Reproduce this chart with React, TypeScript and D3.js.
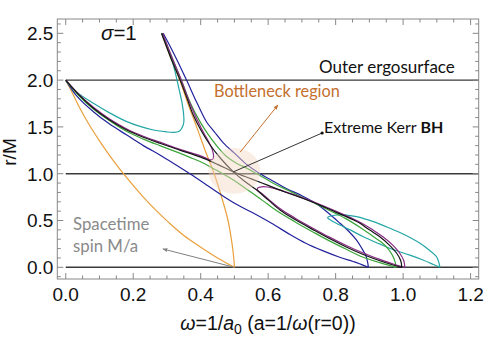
import React from 'react';
import * as d3 from 'd3';

type Pt = [number, number]; // [omega, r/M]

// ---- curves ([omega, r/M]) ----
const orangeOuter: Pt[] = [
  [0, 2], [0.02, 1.86], [0.042, 1.7], [0.07, 1.52], [0.102, 1.34], [0.135, 1.17],
  [0.171, 1.0], [0.23, 0.75], [0.27, 0.6], [0.305, 0.48], [0.35, 0.34], [0.398, 0.22],
  [0.45, 0.1], [0.5, 0],
];
const orangeInner: Pt[] = [
  [0.284, 2.5], [0.31, 2.25], [0.338, 2.0], [0.362, 1.75], [0.388, 1.5], [0.413, 1.25],
  [0.44, 1.0], [0.462, 0.75], [0.481, 0.5], [0.493, 0.25], [0.498, 0.1], [0.5, 0],
];
const tealLeft: Pt[] = [
  [0, 2], [0.03, 1.88], [0.082, 1.752], [0.13, 1.65], [0.181, 1.556], [0.22, 1.505],
  [0.26, 1.467], [0.3, 1.446], [0.319, 1.442], [0.335, 1.45], [0.344, 1.485], [0.35, 1.55],
  [0.349, 1.65], [0.344, 1.77], [0.336, 1.9], [0.319, 2.16], [0.302, 2.34], [0.284, 2.5],
];
const tealLoop: Pt[] = [
  [1.109, 0], [1.106, 0.05], [1.099, 0.113], [1.075, 0.19], [1.05, 0.256], [1.0, 0.355],
  [0.961, 0.417], [0.91, 0.49], [0.862, 0.541], [0.825, 0.56], [0.803, 0.559], [0.785, 0.548],
  [0.776, 0.53], [0.785, 0.505], [0.793, 0.487], [0.84, 0.405], [0.882, 0.327], [0.93, 0.25],
  [0.97, 0.19], [1.02, 0.13], [1.059, 0.078], [1.09, 0.03], [1.109, 0],
];
const blueLower: Pt[] = [
  [0, 2], [0.035, 1.82], [0.082, 1.662], [0.13, 1.53], [0.181, 1.413], [0.23, 1.3],
  [0.279, 1.2], [0.32, 1.11], [0.368, 1.0], [0.42, 0.875], [0.467, 0.76], [0.51, 0.665],
  [0.55, 0.59], [0.61, 0.47], [0.665, 0.35], [0.71, 0.26], [0.763, 0.175], [0.81, 0.11],
  [0.862, 0.05], [0.897, 0],
];
const blueUpper: Pt[] = [
  [0.897, 0], [0.895, 0.05], [0.89, 0.12], [0.878, 0.2], [0.862, 0.29], [0.84, 0.38],
  [0.813, 0.47], [0.78, 0.575], [0.745, 0.675], [0.7, 0.765], [0.655, 0.84], [0.615, 0.92],
  [0.576, 1.0], [0.536, 1.1], [0.5, 1.22], [0.467, 1.33], [0.44, 1.45], [0.418, 1.55],
  [0.39, 1.75], [0.358, 2.0], [0.325, 2.25], [0.289, 2.5],
];
const greenLower: Pt[] = [
  [0, 2], [0.04, 1.83], [0.082, 1.69], [0.13, 1.565], [0.181, 1.45], [0.23, 1.37],
  [0.279, 1.3], [0.33, 1.23], [0.368, 1.175], [0.398, 1.13], [0.428, 1.075], [0.46, 1.01],
  [0.497, 0.933], [0.53, 0.85], [0.566, 0.76], [0.6, 0.67], [0.636, 0.58], [0.68, 0.485],
  [0.734, 0.375], [0.78, 0.285], [0.833, 0.19], [0.88, 0.11], [0.931, 0.05], [0.979, 0],
];
const greenUpper: Pt[] = [
  [0.979, 0], [0.976, 0.06], [0.968, 0.13], [0.955, 0.2], [0.935, 0.27], [0.911, 0.33],
  [0.875, 0.42], [0.83, 0.52], [0.78, 0.61], [0.735, 0.69], [0.694, 0.76], [0.66, 0.82],
  [0.625, 0.88], [0.595, 0.94], [0.566, 1.0], [0.536, 1.06], [0.507, 1.11], [0.475, 1.19],
  [0.447, 1.3], [0.42, 1.43], [0.398, 1.556], [0.37, 1.75], [0.342, 2.0], [0.314, 2.25],
  [0.286, 2.5],
];
const purpleLeft: Pt[] = [
  [0, 2], [0.04, 1.845], [0.082, 1.71], [0.13, 1.585], [0.181, 1.478], [0.23, 1.4],
  [0.279, 1.337], [0.33, 1.27], [0.37, 1.225], [0.4, 1.19], [0.42, 1.16], [0.43, 1.147],
  [0.437, 1.16], [0.438, 1.2], [0.434, 1.26], [0.428, 1.31], [0.41, 1.43], [0.4, 1.5],
  [0.383, 1.627], [0.363, 1.8], [0.343, 2.0], [0.314, 2.25], [0.287, 2.5],
];
const purpleLoop: Pt[] = [
  [1.005, 0], [1.002, 0.07], [0.99, 0.15], [0.97, 0.235], [0.94, 0.327], [0.91, 0.4],
  [0.88, 0.465], [0.85, 0.52], [0.8, 0.6], [0.75, 0.675], [0.7, 0.745], [0.66, 0.795],
  [0.625, 0.835], [0.598, 0.858], [0.58, 0.86], [0.568, 0.845], [0.57, 0.82], [0.582, 0.785],
  [0.6, 0.73], [0.636, 0.625], [0.68, 0.525], [0.734, 0.415], [0.78, 0.325], [0.833, 0.23],
  [0.88, 0.155], [0.931, 0.085], [0.975, 0.03], [1.005, 0],
];
const blackLeft: Pt[] = [
  [0, 2], [0.04, 1.84], [0.082, 1.7], [0.13, 1.575], [0.181, 1.467], [0.23, 1.39],
  [0.279, 1.325], [0.34, 1.25], [0.398, 1.18], [0.45, 1.1], [0.497, 1.02], [0.55, 0.945],
  [0.6, 0.875], [0.65, 0.805], [0.7, 0.74], [0.75, 0.67], [0.8, 0.59], [0.85, 0.51],
  [0.872, 0.47], [0.9, 0.4], [0.931, 0.327], [0.96, 0.235], [0.981, 0.15], [0.993, 0.07],
  [0.996, 0],
];
const blackTop: Pt[] = [
  [0.284, 2.5], [0.31, 2.25], [0.339, 2.0], [0.36, 1.8], [0.378, 1.627], [0.4, 1.47],
  [0.428, 1.307], [0.46, 1.16], [0.497, 1.02], [0.53, 0.92], [0.566, 0.826], [0.6, 0.72],
  [0.636, 0.61], [0.68, 0.51], [0.734, 0.4], [0.78, 0.31], [0.833, 0.215], [0.88, 0.14],
  [0.931, 0.07], [0.97, 0.025], [0.996, 0],
];

// reference levels
const levels = [0, 1, 2];

// ticks
const xMajor = [0, 0.2, 0.4, 0.6, 0.8, 1.0, 1.2];
const xMajorLabels = ['0.0', '0.2', '0.4', '0.6', '0.8', '1.0', '1.2'];
const yMajor = [0, 0.5, 1.0, 1.5, 2.0, 2.5];
const yMajorLabels = ['0.0', '0.5', '1.0', '1.5', '2.0', '2.5'];

// annotation anchors (data coordinates)
const bottleneckCenter: Pt = [0.5, 1.03];
const bottleneckArrow: Pt[] = [[0.517, 1.23], [0.629, 1.734]];
const kerrPointer: Pt[] = [[0.76, 1.435], [0.497, 1.02]];
const spinArrow: Pt[] = [[0.5, 0], [0.288, 0.196]];

const W = 490;
const H = 347;
const L = 57.3, R = 478.7, T = 19, B = 279;

const ORANGE = '#e9a03c';
const BLUE = '#22229c';
const TEAL = '#24a6a6';
const GREEN = '#3aa53a';
const PURPLE = '#8a2a86';
const BLACK = '#141414';

const series = [
  { pts: orangeOuter, color: ORANGE },
  { pts: orangeInner, color: ORANGE },
  { pts: blueLower, color: BLUE },
  { pts: blueUpper, color: BLUE },
  { pts: tealLeft, color: TEAL },
  { pts: tealLoop, color: TEAL },
  { pts: greenLower, color: GREEN },
  { pts: greenUpper, color: GREEN },
  { pts: purpleLeft, color: PURPLE },
  { pts: purpleLoop, color: PURPLE },
  { pts: blackLeft, color: BLACK },
  { pts: blackTop, color: BLACK },
];

const App = () => {
  const x = d3.scaleLinear().domain([-0.025, 1.224]).range([L, R]);
  const y = d3.scaleLinear().domain([-0.125, 2.653]).range([B, T]);

  const line = d3.line<Pt>()
    .x(d => x(d[0]))
    .y(d => y(d[1]))
    .curve(d3.curveCatmullRom.alpha(0.5));

  const xMinor = d3.range(0, 1.2201, 0.05).filter(v => !xMajor.some(m => Math.abs(m - v) < 1e-6));
  const yMinor = d3.range(-0.1, 2.6501, 0.1).filter(v => !yMajor.some(m => Math.abs(m - v) < 1e-6));

  const tickColor = '#888';
  const labelFont = '"Liberation Sans", Arial, sans-serif';
  const noteFont = 'Lato, "Open Sans", sans-serif';

  return (
    <svg width={W} height={H} style={{ position: 'absolute', left: 0, top: 0, background: '#fff' }}>
      <defs>
        <marker id="arrOrange" viewBox="0 0 10 10" refX="9" refY="5" markerWidth="5" markerHeight="5" orient="auto">
          <path d="M0,1 L10,5 L0,9 z" fill="#c4702e" />
        </marker>
        <marker id="arrGray" viewBox="0 0 10 10" refX="9" refY="5" markerWidth="5" markerHeight="5" orient="auto">
          <path d="M0,1 L10,5 L0,9 z" fill="#808080" />
        </marker>
      </defs>

      {/* reference lines */}
      {levels.map(v => (
        <line key={v} x1={x(0)} x2={R} y1={y(v)} y2={y(v)} stroke="#3a3a3a" strokeWidth={1.4} />
      ))}

      {/* curves */}
      {series.map((s, i) => (
        <path key={i} d={line(s.pts) || ''} fill="none" stroke={s.color} strokeWidth={1.2} />
      ))}

      {/* bottleneck blob */}
      <ellipse
        cx={x(bottleneckCenter[0])} cy={y(bottleneckCenter[1])}
        rx={x(0.077) - x(0)} ry={y(0) - y(0.245)}
        fill="#f4d8c4" opacity={0.45}
      />

      {/* frame */}
      <rect x={L} y={T} width={R - L} height={B - T} fill="none" stroke={tickColor} strokeWidth={1} />
      {xMajor.map(v => (
        <g key={'xM' + v}>
          <line x1={x(v)} x2={x(v)} y1={B} y2={B - 6} stroke={tickColor} />
          <line x1={x(v)} x2={x(v)} y1={T} y2={T + 6} stroke={tickColor} />
        </g>
      ))}
      {xMinor.map(v => (
        <g key={'xm' + v}>
          <line x1={x(v)} x2={x(v)} y1={B} y2={B - 3.5} stroke={tickColor} />
          <line x1={x(v)} x2={x(v)} y1={T} y2={T + 3.5} stroke={tickColor} />
        </g>
      ))}
      {yMajor.map(v => (
        <g key={'yM' + v}>
          <line x1={L} x2={L + 6} y1={y(v)} y2={y(v)} stroke={tickColor} />
          <line x1={R} x2={R - 6} y1={y(v)} y2={y(v)} stroke={tickColor} />
        </g>
      ))}
      {yMinor.map(v => (
        <g key={'ym' + v}>
          <line x1={L} x2={L + 3.5} y1={y(v)} y2={y(v)} stroke={tickColor} />
          <line x1={R} x2={R - 3.5} y1={y(v)} y2={y(v)} stroke={tickColor} />
        </g>
      ))}

      {/* tick labels */}
      {xMajor.map((v, i) => (
        <text key={'xl' + v} x={x(v)} y={B + 22} textAnchor="middle" fontFamily={labelFont} fontSize={19} fill="#111">
          {xMajorLabels[i]}
        </text>
      ))}
      {yMajor.map((v, i) => (
        <text key={'yl' + v} x={L - 4} y={y(v) + 6.8} textAnchor="end" fontFamily={labelFont} fontSize={19} fill="#111">
          {yMajorLabels[i]}
        </text>
      ))}

      {/* axis titles */}
      <text x={268} y={330} textAnchor="middle" fontFamily={labelFont} fontSize={19.5} fill="#111">
        <tspan fontStyle="italic">ω</tspan>=1/<tspan fontStyle="italic">a</tspan>
        <tspan fontSize={14} dy={4}>0</tspan>
        <tspan dy={-4}> (a=1/</tspan><tspan fontStyle="italic">ω</tspan>(r=0))
      </text>
      <text transform="translate(16,152) rotate(-90)" textAnchor="middle" fontFamily={labelFont} fontSize={19} fill="#111">
        r/M
      </text>

      {/* sigma */}
      <text x={101} y={39.5} fontFamily={labelFont} fontSize={20.5} fill="#111">
        <tspan fontStyle="italic">σ</tspan>=1
      </text>

      {/* annotations */}
      <text x={319} y={73} fontFamily={noteFont} fontSize={17} fill="#111">Outer ergosurface</text>
      <text x={214} y={97} fontFamily={noteFont} fontSize={16.3} fill="#c4702e">Bottleneck region</text>
      <line
        x1={x(bottleneckArrow[0][0])} y1={y(bottleneckArrow[0][1])}
        x2={x(bottleneckArrow[1][0])} y2={y(bottleneckArrow[1][1])}
        stroke="#c4702e" strokeWidth={1} markerEnd="url(#arrOrange)"
      />
      <line
        x1={x(kerrPointer[0][0])} y1={y(kerrPointer[0][1])}
        x2={x(kerrPointer[1][0])} y2={y(kerrPointer[1][1])}
        stroke="#333" strokeWidth={1}
      />
      <circle cx={x(kerrPointer[0][0])} cy={y(kerrPointer[0][1])} r={1.6} fill="#111" />
      <text x={324} y={133} fontFamily={noteFont} fontSize={16} fill="#111">
        Extreme Kerr <tspan fontWeight="bold">BH</tspan>
      </text>
      <text x={73} y={230} fontFamily={noteFont} fontSize={16.8} fill="#8a8a8a">Spacetime</text>
      <text x={73} y={251.5} fontFamily={noteFont} fontSize={16.8} fill="#8a8a8a">spin M/a</text>
      <line
        x1={x(spinArrow[0][0])} y1={y(spinArrow[0][1])}
        x2={x(spinArrow[1][0])} y2={y(spinArrow[1][1])}
        stroke="#808080" strokeWidth={1} markerEnd="url(#arrGray)"
      />
    </svg>
  );
};

export default App;
